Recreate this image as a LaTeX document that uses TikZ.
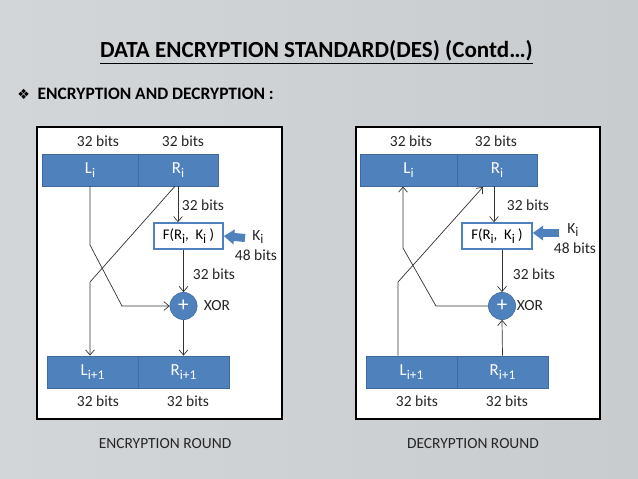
\documentclass[tikz,border=0pt]{standalone}
\usepackage{fontspec}
\setmainfont{Carlito}
\newfontfamily\symbolfont{DejaVu Sans}
\usetikzlibrary{arrows.meta}
\definecolor{desblue}{HTML}{4F81BD}
\definecolor{desedge}{HTML}{3E6A9E}
\definecolor{slideleft}{HTML}{D3D6D9}
\definecolor{slideright}{HTML}{C9CCCF}
\newcommand{\lowidx}[1]{\raisebox{-0.5ex}{\fontsize{9.5}{10}\selectfont #1}}
\tikzset{
  panel/.style={draw=black, line width=1.2pt, fill=white},
  half/.style={rectangle, draw=desedge, fill=desblue, line width=0.6pt, text=white, inner sep=0pt, minimum height=0.8cm, font=\fontsize{12}{13}\selectfont},
  funcbox/.style={rectangle, draw=desblue, fill=white, line width=1.1pt, inner sep=0pt, minimum height=0.65cm, font=\fontsize{10.5}{12}\selectfont},
  xorgate/.style={circle, draw=desedge, fill=desblue, text=white, minimum size=0.68cm, inner sep=0pt, font=\fontsize{15}{15}\selectfont},
  bits/.style={font=\fontsize{11}{12}\selectfont, text=black!85, inner sep=1pt},
  caption/.style={font=\fontsize{11}{12}\selectfont, text=black!85},
  arr/.style={-{Straight Barb[length=1.3mm,width=2.2mm]}, line width=0.5pt, black!80},
  keyarrow/.style={-{Triangle[length=2.6mm,width=3.6mm]}, line width=2mm, desblue}
}
\begin{document}
\begin{tikzpicture}[x=0.025cm, y=-0.025cm]
  % slide background
  \useasboundingbox (0,0) rectangle (638,479);
  \shade[left color=slideleft, right color=slideright] (0,0) rectangle (638,479);

  \node[font=\bfseries\fontsize{16.4}{18}\selectfont] (title) at (316.5,52) {\underline{DATA ENCRYPTION STANDARD(DES) (Contd…)}};
  \node[anchor=west, font=\bfseries\fontsize{12.4}{14}\selectfont, inner sep=0pt] (subtitle) at (17,94) {{\symbolfont\fontsize{10}{12}\selectfont ❖}\hspace{0.45em}ENCRYPTION AND DECRYPTION :};

  % encryption round
  \draw[panel] (37,127) rectangle (282,419);
  \node[bits] (eb1) at (98,141) {32 bits};
  \node[bits] (eb2) at (183,141) {32 bits};
  \node[half, minimum width=2.4cm] (eli) at (90,170) {L\lowidx{i}};
  \node[half, minimum width=2.0cm] (eri) at (178,170) {R\lowidx{i}};
  \node[funcbox, minimum width=1.725cm] (efn) at (188.5,236) {F(R\lowidx{i},~~K\lowidx{i}~)};
  \node[xorgate] (exor) at (183.5,306) {+};
  \node[bits] at (217,306) {XOR};
  \node[bits] (ek) at (258,237) {K\lowidx{i}};
  \node[bits] at (256,255) {48 bits};
  \node[half, minimum width=2.275cm] (eli1) at (92.5,372) {L\lowidx{i+1}};
  \node[half, minimum width=2.275cm] (eri1) at (183.5,372) {R\lowidx{i+1}};
  \node[bits] at (98,401) {32 bits};
  \node[bits] at (188,401) {32 bits};
  \node[bits] at (203,205) {32 bits};
  \node[bits] at (214,274) {32 bits};
  \node[caption] at (165,444) {ENCRYPTION ROUND};

  \coordinate (ekin) at (245,238);
  \coordinate (ebend1) at (90,245);
  \coordinate (ebend2) at (122,306);
  \coordinate (ebend3) at (90,282);
  \draw[keyarrow] (ekin) -- (efn.east);
  \draw[arr] (eri.south) -- (eri.south |- efn.north);
  \draw[arr] (exor.north |- efn.south) -- (exor.north);
  \draw[arr] (exor.south) -- (exor.south |- eri1.north);
  \draw[arr] (eli.south) -- (ebend1) -- (ebend2) -- (exor.west);
  \draw[arr] ([xshift=-0.08cm]eri.south) -- (ebend3) -- (ebend3 |- eli1.north);

  % decryption round
  \draw[panel] (356,127) rectangle (600,419);
  \node[bits] (db1) at (411,141) {32 bits};
  \node[bits] (db2) at (496,141) {32 bits};
  \node[half, minimum width=2.425cm] (dli) at (408.5,170) {L\lowidx{i}};
  \node[half, minimum width=2.0cm] (dri) at (497,170) {R\lowidx{i}};
  \node[funcbox, minimum width=1.75cm] (dfn) at (497,236) {F(R\lowidx{i},~~K\lowidx{i}~)};
  \node[xorgate] (dxor) at (502,306) {+};
  \node[bits] at (530,306) {XOR};
  \node[bits] (dk) at (573,230) {K\lowidx{i}};
  \node[bits] at (575,248) {48 bits};
  \node[half, minimum width=2.275cm] (dli1) at (411.5,372) {L\lowidx{i+1}};
  \node[half, minimum width=2.275cm] (dri1) at (502.5,372) {R\lowidx{i+1}};
  \node[bits] at (417,401) {32 bits};
  \node[bits] at (507,401) {32 bits};
  \node[bits] at (528,205) {32 bits};
  \node[bits] at (534,274) {32 bits};
  \node[caption] at (473,444) {DECRYPTION ROUND};

  \coordinate (dkin) at (559,233);
  \coordinate (dbend1) at (436,306);
  \coordinate (dbend2) at (403,248);
  \coordinate (dbend3) at (398,282);
  \coordinate (dtop) at (483,187);
  \draw[keyarrow] (dkin) -- (dfn.east |- dkin);
  \draw[arr] ([xshift=-0.075cm]dri.south) -- ([xshift=-0.075cm]dri.south |- dfn.north);
  \draw[arr] (dxor.north |- dfn.south) -- (dxor.north);
  \draw[arr] (dri1.north) -- (dxor.south);
  \draw[arr] (dxor.west) -- (dbend1) -- (dbend2) -- (dbend2 |- dli.south);
  \draw[arr] (dbend3 |- dli1.north) -- (dbend3) -- (dtop);
\end{tikzpicture}
\end{document}
